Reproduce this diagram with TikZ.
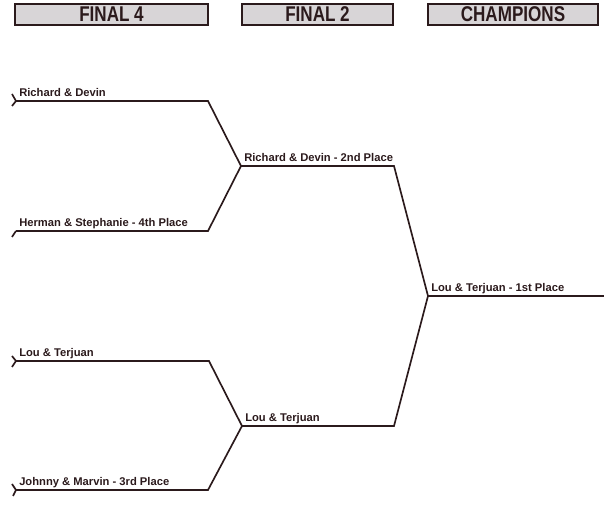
\documentclass[tikz,border=0pt]{standalone}
\usepackage{fontspec}
\setmainfont{Liberation Sans}
\definecolor{ink}{HTML}{2B1A1C}
\definecolor{boxgray}{HTML}{D8D5D7}
\newcommand{\tallhead}[1]{\scalebox{1}[1.25]{#1}}

\begin{document}
\begin{tikzpicture}[x=0.75pt,y=-0.75pt,
  bracket/.style={draw=ink,line width=1.25pt,line join=miter},
  team/.style={anchor=base west,inner sep=0,text=ink,font=\bfseries\fontsize{8.4}{10}\selectfont},
  roundbox/.style={draw=ink,line width=1.6pt,fill=boxgray,inner sep=0,minimum height=15.75pt,text=ink,font=\bfseries\fontsize{12.8}{14}\selectfont}]
\useasboundingbox (0,0) rectangle (604,509);
\node[roundbox,minimum width=144.75pt] (final4) at (111.5,14.5) {\tallhead{FINAL 4}};
\node[roundbox,minimum width=113.25pt] (final2) at (317.5,14.5) {\tallhead{FINAL 2}};
\node[roundbox,minimum width=127.5pt] (champ) at (513,14.5) {\tallhead{CHAMPIONS}};
\coordinate (rd) at (16,101);
\coordinate (rd-end) at (208,101);
\coordinate (hs) at (16,231);
\coordinate (hs-end) at (208,231);
\coordinate (lt) at (16,361);
\coordinate (lt-end) at (209,361);
\coordinate (jm) at (16,490);
\coordinate (jm-end) at (208,490);
\coordinate (top2) at (241,166);
\coordinate (top2-end) at (394,166);
\coordinate (bot2) at (242,426);
\coordinate (bot2-end) at (394,426);
\coordinate (win) at (428,296);
\coordinate (win-end) at (604,296);
\node[team] (rd-name) at (19,97) {Richard \& Devin};
\node[team] (hs-name) at (19,227) {Herman \& Stephanie - 4th Place};
\node[team] (lt-name) at (19,357) {Lou \& Terjuan};
\node[team] (jm-name) at (19,486) {Johnny \& Marvin - 3rd Place};
\node[team] (top2-name) at (244,162) {Richard \& Devin - 2nd Place};
\node[team] (bot2-name) at (245,422) {Lou \& Terjuan};
\node[team] (win-name) at (431,292) {Lou \& Terjuan - 1st Place};
\draw[bracket] (12,94) -- (rd) -- (12,106);
\draw[bracket] (12,237) -- (hs);
\draw[bracket] (12,356) -- (lt) -- (12,367);
\draw[bracket] (12,484) -- (jm) -- (13,496);
\draw[bracket] (rd) -- (rd-end) -- (top2);
\draw[bracket] (hs) -- (hs-end) -- (top2);
\draw[bracket] (lt) -- (lt-end) -- (bot2);
\draw[bracket] (jm) -- (jm-end) -- (bot2);
\draw[bracket] (top2) -- (top2-end) -- (win);
\draw[bracket] (bot2) -- (bot2-end) -- (win);
\draw[bracket] (win) -- (win-end);
\end{tikzpicture}
\end{document}
